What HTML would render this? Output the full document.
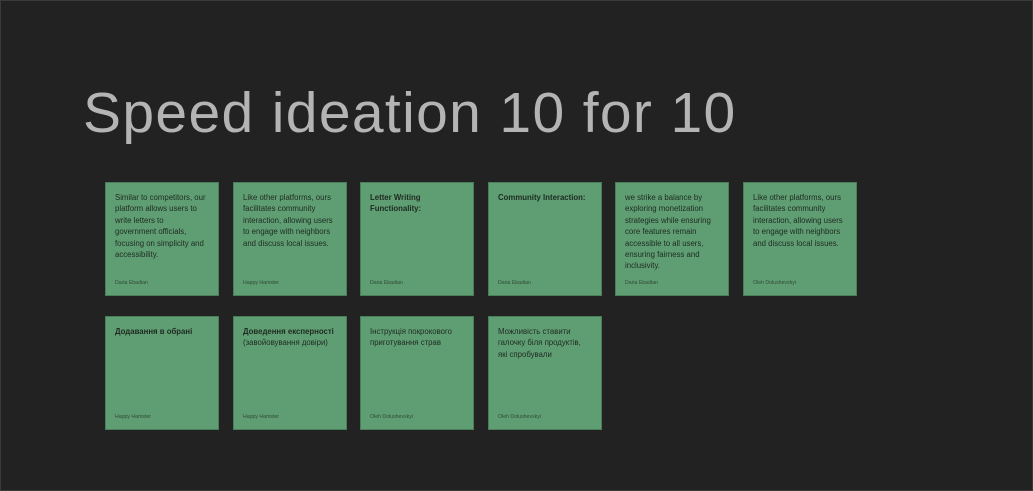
<!DOCTYPE html>
<html><head><meta charset="utf-8"><style>
html,body{margin:0;padding:0}
body{width:1033px;height:491px;background:#222;position:relative;overflow:hidden;font-family:"Liberation Sans","DejaVu Sans",sans-serif}
.frame{position:absolute;left:0;top:0;width:1031px;height:489px;border:1px solid #3a3a3a}
h1{position:absolute;left:83px;top:80px;margin:0;font-weight:normal;font-size:57px;color:#b4b4b4;letter-spacing:1.35px}
.c{position:absolute;width:114px;height:114px;background:#5f9e72;border:1px solid #4a7d5a;box-sizing:border-box}
.t{position:absolute;left:9px;top:9px;white-space:nowrap;font-size:7.8px;line-height:11.4px;color:#1e2a22}
.t b{font-weight:bold}
.a{position:absolute;left:9px;top:97px;font-size:5.2px;color:#2f4a37}
</style></head><body>
<div class="frame"></div>
<h1>Speed ideation 10 for 10</h1>

<div class="c" style="left:105px;top:182px"><div class="t">Similar to competitors, our<br>platform allows users to<br>write letters to<br>government officials,<br>focusing on simplicity and<br>accessibility.</div><div class="a">Daria Ebadian</div></div>
<div class="c" style="left:233px;top:182px"><div class="t">Like other platforms, ours<br>facilitates community<br>interaction, allowing users<br>to engage with neighbors<br>and discuss local issues.</div><div class="a">Happy Hamster</div></div>
<div class="c" style="left:360px;top:182px"><div class="t"><b>Letter Writing<br>Functionality:</b></div><div class="a">Daria Ebadian</div></div>
<div class="c" style="left:488px;top:182px"><div class="t"><b>Community Interaction:</b></div><div class="a">Daria Ebadian</div></div>
<div class="c" style="left:615px;top:182px"><div class="t">we strike a balance by<br>exploring monetization<br>strategies while ensuring<br>core features remain<br>accessible to all users,<br>ensuring fairness and<br>inclusivity.</div><div class="a">Daria Ebadian</div></div>
<div class="c" style="left:743px;top:182px"><div class="t">Like other platforms, ours<br>facilitates community<br>interaction, allowing users<br>to engage with neighbors<br>and discuss local issues.</div><div class="a">Oleh Dolushevskyi</div></div>

<div class="c" style="left:105px;top:316px"><div class="t"><b>Додавання в обрані</b></div><div class="a">Happy Hamster</div></div>
<div class="c" style="left:233px;top:316px"><div class="t"><b>Доведення експерності</b><br>(завойовування довіри)</div><div class="a">Happy Hamster</div></div>
<div class="c" style="left:360px;top:316px"><div class="t">Інструкція покрокового<br>приготування страв</div><div class="a">Oleh Dolushevskyi</div></div>
<div class="c" style="left:488px;top:316px"><div class="t">Можливість ставити<br>галочку біля продуктів,<br>які спробували</div><div class="a">Oleh Dolushevskyi</div></div>
</body></html>
